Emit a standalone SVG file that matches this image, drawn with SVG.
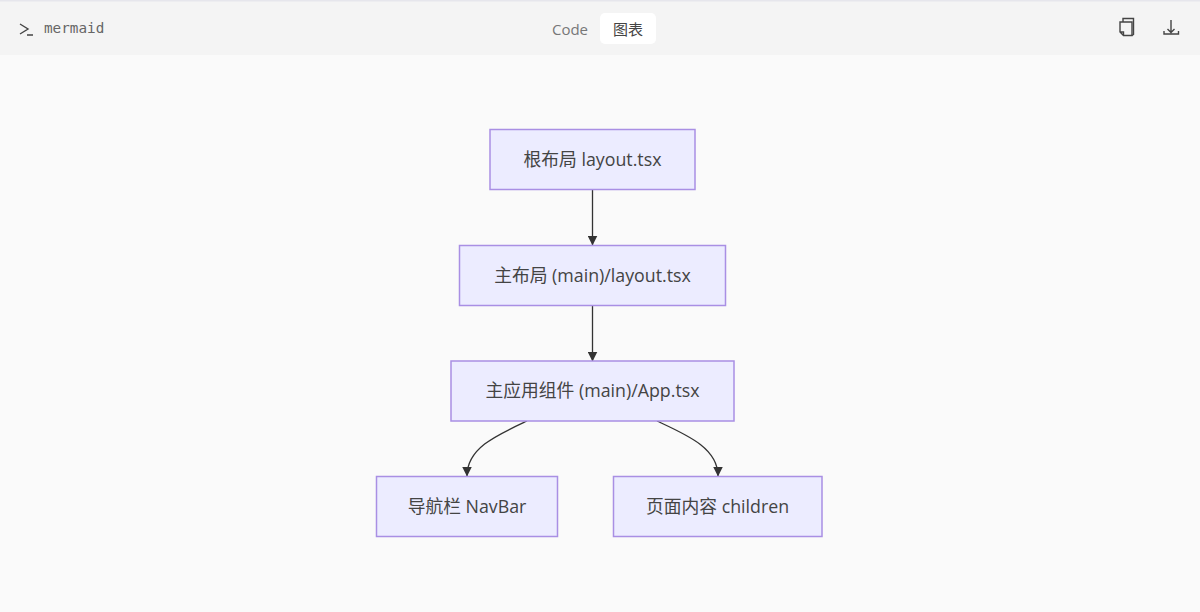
<svg xmlns="http://www.w3.org/2000/svg" width="1200" height="612" viewBox="0 0 1200 612">
<style>
.n{fill:#ececff;stroke:#a98fe4;stroke-width:1.5}
.t{font-family:"Open Sans","Noto Sans CJK SC",sans-serif;font-size:17.8px;fill:#444;text-anchor:middle}
.e{fill:none;stroke:#333;stroke-width:1.3;marker-end:url(#a)}
.i{fill:none;stroke:#444;stroke-width:1.4}
</style>
<defs><marker id="a" markerUnits="userSpaceOnUse" markerWidth="10" markerHeight="10" refX="9.500" refY="5" orient="auto"><path d="M0 0L10 5L0 10z" fill="#333"/></marker></defs>
<rect width="1200" height="612" fill="#fafafa"/>
<g id="toolbar">
<rect width="1200" height="55" fill="#f4f4f4"/>
<rect width="1200" height="1.5" fill="#e6e6ec"/>
<path class="i" d="M20 24l8 5-8 5M27 35h6" stroke-width="1.500"/>
<text x="44" y="33" font-family="'DejaVu Sans Mono',monospace" font-size="14.300" fill="#666">mermaid</text>
<text x="570" y="35" font-family="'Open Sans',sans-serif" font-size="15" fill="#777" text-anchor="middle">Code</text>
<rect x="600" y="13" width="56" height="31" rx="5" fill="#fff"/>
<text x="628" y="35" font-family="'Noto Sans CJK SC',sans-serif" font-size="15" fill="#444" text-anchor="middle">图表</text>
<path class="i" d="M1123.500 22h8.500v13.500h-8.500l-3.500-3.500v-10zM1120 32h3.500v3.500"/>
<path class="i" d="M1123 22v-3.500h10.500v16l-1.500 1"/>
<path class="i" d="M1171 20v12M1167.500 29l3.500 3.500 3.500-3.500M1164 31v3h14.500v-3"/>
</g>
<g id="connectors">
<path class="e" d="M592.500 190V245"/>
<path class="e" d="M592.500 306V361"/>
<path class="e" d="M527 421C497 435 467 448 467 476"/>
<path class="e" d="M657 421C687 435 718 448 718 476"/>
</g>
<g id="n1"><rect class="n" x="490" y="129.500" width="205" height="60"/><text class="t" x="592.500" y="166">根布局 layout.tsx</text></g>
<g id="n2"><rect class="n" x="459.500" y="245.500" width="266" height="60"/><text class="t" x="592.500" y="282">主布局 (main)/layout.tsx</text></g>
<g id="n3"><rect class="n" x="451" y="361" width="283" height="60"/><text class="t" x="592.500" y="397">主应用组件 (main)/App.tsx</text></g>
<g id="n4"><rect class="n" x="376.500" y="476.500" width="181" height="60"/><text class="t" x="467" y="513">导航栏 NavBar</text></g>
<g id="n5"><rect class="n" x="613.500" y="476.500" width="208.500" height="60"/><text class="t" x="717.500" y="513">页面内容 children</text></g>
</svg>
